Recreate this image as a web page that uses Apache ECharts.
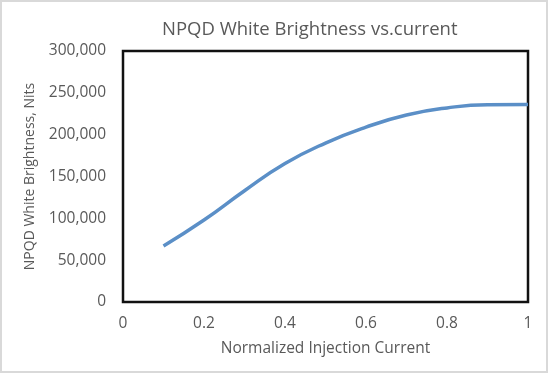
<!DOCTYPE html>
<html><head><meta charset="utf-8">
<script src="https://cdn.jsdelivr.net/npm/echarts@6/dist/echarts.min.js"></script>
<style>html,body{margin:0;padding:0;background:#fff}#c{width:549px;height:374px}</style>
</head><body><div id="c"></div>
<script>
const xValues = [0.1, 0.2, 0.3, 0.4, 0.5, 0.6, 0.7, 0.8, 0.9, 1.0];
const brightness = [67000, 98000, 133000, 165500, 190000, 209000, 223500, 232000, 235800, 236000];
const titleText = 'NPQD White Brightness vs.current';
const xName = 'Normalized Injection Current';
const yName = 'NPQD White Brightness, Nits';

const chart = echarts.init(document.getElementById('c'), null, {renderer: 'canvas'});
const font = 'Open Sans';
chart.setOption({
  animation: false,
  graphic: [{type: 'rect', shape: {x: 1, y: 1, width: 546, height: 371}, style: {fill: 'none', stroke: '#d9d9d9', lineWidth: 2}}],
  title: {text: titleText, left: 157, top: 15, textStyle: {fontFamily: font, fontSize: 18.5, fontWeight: 'normal', color: '#595959'}},
  grid: {left: 123, top: 51, right: 21, bottom: 72, show: true, borderColor: '#111', borderWidth: 2.5, backgroundColor: '#fff'},
  xAxis: {type: 'value', min: 0, max: 1, interval: 0.2, name: xName, nameLocation: 'middle', nameGap: 39,
    nameTextStyle: {fontFamily: font, fontSize: 15.5, color: '#595959'},
    axisLine: {show: false}, axisTick: {show: false}, splitLine: {show: false},
    axisLabel: {fontFamily: font, fontSize: 15.5, color: '#595959', margin: 14, formatter: v => String(Math.round(v * 10) / 10)}},
  yAxis: {type: 'value', min: 0, max: 300000, interval: 50000, name: yName, nameLocation: 'middle', nameGap: 86,
    nameTextStyle: {fontFamily: font, fontSize: 14, color: '#595959'},
    axisLine: {show: false}, axisTick: {show: false}, splitLine: {show: false},
    axisLabel: {fontFamily: font, fontSize: 15.5, color: '#595959', margin: 17, formatter: v => v.toLocaleString('en-US')}},
  series: [{type: 'line', data: xValues.map((x, i) => [x, brightness[i]]), smooth: true, showSymbol: false,
    lineStyle: {color: '#5b8fc7', width: 3.5}}]
});
</script></body></html>
